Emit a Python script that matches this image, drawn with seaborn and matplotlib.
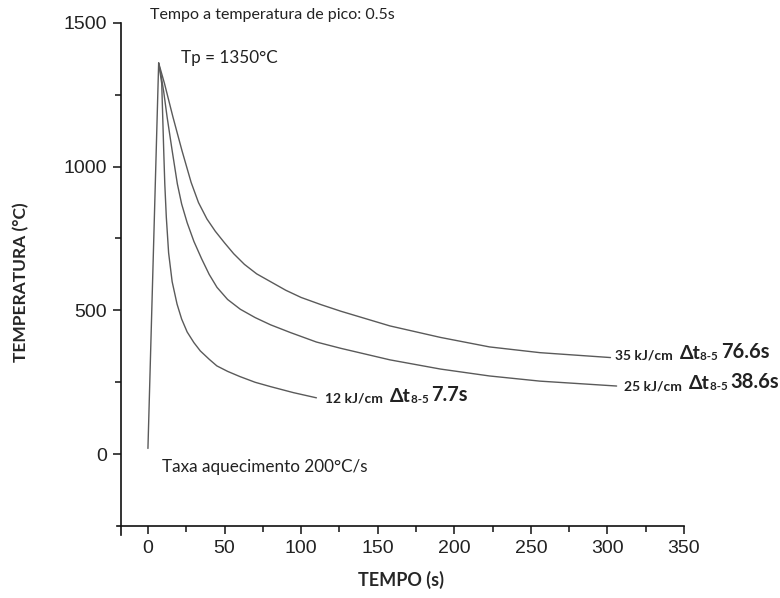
import numpy as np
import pandas as pd
import seaborn as sns
import matplotlib.pyplot as plt
from matplotlib.ticker import MultipleLocator, FixedLocator

# heating ramp (200 C/s up to the peak)
heat_t = [0, 7]
heat_T = [20, 1360]

# cooling curves
t12 = [7, 8, 9, 9.5, 10.3, 11, 12, 13.5, 15.8, 19, 22, 25.6, 30, 34.2, 40, 45, 52, 60, 70, 80, 95, 110]
T12 = [1360, 1325, 1289, 1200, 1056, 940, 824, 700, 600, 522, 470, 425, 388, 359, 330, 307, 288, 270, 250, 235, 214, 196]

t25 = [7, 8.5, 10.3, 12.5, 15.8, 19.2, 22, 25.6, 30, 35, 40, 45.1, 52, 60.3, 70, 80, 93, 110, 126, 158, 191, 223, 256, 306]
T25 = [1360, 1320, 1260, 1173, 1056, 940, 870, 805, 740, 680, 625, 580, 538, 504, 475, 450, 423, 390, 368, 328, 296, 272, 254, 237]

t35 = [7, 10.8, 16.3, 22.2, 28.2, 33, 38.5, 44, 50, 56, 63, 71, 80, 90, 100, 113, 126, 158, 191, 223, 256, 302]
T35 = [1360, 1289, 1173, 1056, 945, 875, 818, 775, 735, 697, 660, 627, 600, 570, 545, 520, 497, 446, 406, 373, 353, 336]

curves = {"aquecimento": (heat_t, heat_T), "12 kJ/cm": (t12, T12),
          "25 kJ/cm": (t25, T25), "35 kJ/cm": (t35, T35)}

sns.set_style("ticks")
plt.rcParams['font.family'] = ['Liberation Sans', 'DejaVu Sans']

fig = plt.figure(figsize=(7.8, 5.98), dpi=100)
ax = fig.add_axes([117/780, 1-535/598, (684-117)/780, (535-22.8)/598])

for name, (t, T) in curves.items():
    df = pd.DataFrame({"t": t, "T": T})
    sns.lineplot(data=df, x="t", y="T", ax=ax, color="#5a5a5a", lw=1.0,
                 estimator=None, sort=False, solid_joinstyle='round')

ax.set_xlim(-20.2, 350)
ax.set_ylim(-281, 1500)
ax.spines['bottom'].set_position(('data', -250))
ax.spines['left'].set_position(('data', -17.6))
sns.despine(ax=ax)
for s in ['left', 'bottom']:
    ax.spines[s].set_linewidth(1.2)
    ax.spines[s].set_color('#111111')

ax.xaxis.set_major_locator(MultipleLocator(50))
ax.xaxis.set_minor_locator(FixedLocator(np.arange(25, 350, 50)))
ax.set_yticks([0, 500, 1000, 1500])
ax.yaxis.set_minor_locator(FixedLocator([250, 750, 1250]))
ax.tick_params(which='major', length=6, width=1.1, labelsize=14, colors='#111111', labelcolor='#222222', pad=4)
ax.tick_params(which='minor', length=4, width=1.1, colors='#111111')

ax.set_xlabel("TEMPO (s)", fontsize=13, fontweight='bold', family='Lato')
ax.xaxis.set_label_coords(0.5, -0.071)
ax.set_ylabel("TEMPERATURA (°C)", fontsize=12.5, fontweight='bold', family='Lato')
ax.yaxis.set_label_coords(-0.155, 0.494)

note = dict(family='Lato', color='#222222', clip_on=False)
ax.text(1.6, 1527, "Tempo a temperatura de pico: 0.5s", va='center', fontsize=11.5, **note)
ax.text(21.9, 1377, "Tp = 1350°C", va='center', fontsize=12.3, **note)
ax.text(9.5, -45, "Taxa aquecimento 200°C/s", va='center', fontsize=12.3, **note)


def heat_label(x, y, energy, dt):
    parts = [(energy + "  ", 10), ("Δt", 14), ("8-5 ", 8.4), (dt, 14.5)]
    prev = None
    for txt, size in parts:
        kw = dict(fontsize=size, fontweight='bold', family='Lato', color='#222222', clip_on=False)
        if prev is None:
            prev = ax.text(x, y, txt, va='center', **kw)
        else:
            prev = ax.annotate(txt, xy=(1, 0), xycoords=prev, va='bottom', **kw)


heat_label(115.8, 192, "12 kJ/cm", "7.7s")
heat_label(305, 342, "35 kJ/cm", "76.6s")
heat_label(311, 237, "25 kJ/cm", "38.6s")

plt.savefig("out.png", dpi=100)
